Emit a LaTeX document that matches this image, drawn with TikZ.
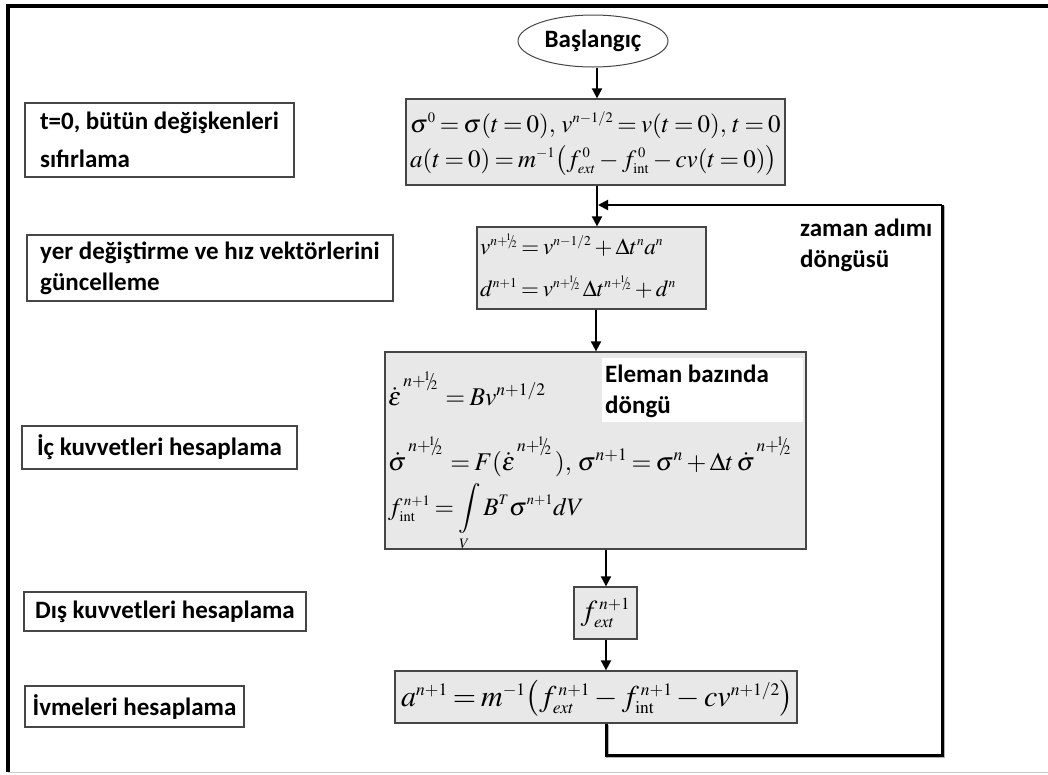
\documentclass[tikz,border=0pt]{standalone}
\usepackage{mathptmx}
\usepackage[no-math]{fontspec}
\setmainfont{Carlito}
\usetikzlibrary{arrows.meta,shapes.geometric}
\DeclareMathSizes{25}{25}{14.5}{10.5}
\DeclareMathSizes{25.5}{25.5}{17.5}{13}
\DeclareMathSizes{23}{23}{13.5}{10}
\DeclareMathSizes{29}{29}{17}{12}
\DeclareMathSizes{30}{30}{17.5}{12.5}
\newcommand\fsz[1]{\fontsize{#1}{#1}\selectfont}
\newcommand\bfs{\bfseries\fontsize{25}{31}\selectfont}
\newcommand\hlf{\mkern-2mu{}^{1}\mkern-5mu/\mkern-4mu{}_{2}}
\newcommand\rsup[1]{^{\raisebox{0.35em}{$\scriptstyle #1$}}}
\thickmuskip=3mu plus 1mu
\medmuskip=2.5mu plus 1mu
\definecolor{boxgray}{RGB}{232,232,232}
\definecolor{edgegray}{RGB}{70,70,70}
\tikzset{
  mbox/.style={draw=edgegray,line width=1.3pt,fill=boxgray,inner sep=0pt},
  lab/.style={draw=edgegray,line width=1.3pt,fill=white,inner sep=0pt,font=\bfs,align=left},
  eq/.style={anchor=base west,inner sep=0pt},
  arr/.style={line width=2pt,-{Triangle[width=10pt,length=10pt]}},
  loopline/.style={line width=3pt,line join=miter},
}
\begin{document}
\begin{tikzpicture}[x=1pt,y=-1pt]
\useasboundingbox (0,0) rectangle (1048,774);
% frame
\draw[line width=4pt] (8,6) -- (1048,6);
\draw[line width=3.5pt] (8,4) -- (8,772);
\draw[gray!40,line width=1pt] (8,772.5) -- (1048,772.5);
% start
\node[ellipse,draw=edgegray,line width=1pt,fill=white,minimum width=150pt,minimum height=52pt,inner sep=0pt,font=\bfs] (bas) at (593,41) {Başlangıç};
% main boxes
\node[mbox,minimum width=379pt,minimum height=86pt] (b1) at (595.5,142) {};
\node[eq,font=\fsz{25}] (b1a) at (410,132) {$\sigma^0=\sigma(t=0),\, v^{n-1/2}=v(t=0),\, t=0$};
\node[eq,font=\fsz{25}] (b1b) at (410,167) {$a(t=0)=m^{-1}\bigl(f^{\,0}_{ext}-f^{\,0}_{\mathrm{int}}-cv(t=0)\bigr)$};
\node[mbox,minimum width=229pt,minimum height=82pt] (b2) at (591.5,268) {};
\node[eq,font=\fsz{23}] (b2a) at (480,254) {$v^{n+\hlf}=v^{n-1/2}+\Delta t^n a^n$};
\node[eq,font=\fsz{23}] (b2b) at (480,296) {$d^{n+1}=v^{n+\hlf}\,\Delta t^{n+\hlf}+d^n$};
\node[mbox,minimum width=421pt,minimum height=197pt] (b3) at (595.5,450.5) {};
\node[eq,font=\fsz{25.5}] (b3a) at (388,405) {$\dot{\varepsilon}\rsup{\,n+\hlf}\,=Bv^{n+1/2}$};
\node[eq,font=\fsz{25.5}] (b3b) at (388,470) {$\dot{\sigma}\rsup{\,n+\hlf}\,=F(\dot{\varepsilon}\rsup{\,n+\hlf}\,),\,\sigma^{n+1}=\sigma^n+\Delta t\,\dot{\sigma}\rsup{\,n+\hlf}$};
\node[eq,font=\fsz{25}] (b3c) at (388,515) {$f^{\,n+1}_{\mathrm{int}}=\displaystyle\int\limits_V B^T\sigma^{n+1}dV$};
\node[fill=white,inner sep=0pt,minimum width=201pt,minimum height=64pt,anchor=north west] (elm) at (602,358) {};
\node[anchor=north west,font=\bfs,align=left,inner sep=0pt] (elmt) at (605,365) {Eleman bazında\\döngü};
\node[mbox,minimum width=63pt,minimum height=52pt,font=\fsz{29}] (b4) at (605.5,613) {$f^{\,n+1}_{ext}$};
\node[mbox,minimum width=402pt,minimum height=52pt] (b5) at (596,697) {};
\node[eq,font=\fsz{30}] (b5a) at (401,706) {$a^{n+1}=m^{-1}\bigl(f^{\,n+1}_{ext}-f^{\,n+1}_{\mathrm{int}}-cv^{n+1/2}\bigr)$};
% labels
\node[lab,minimum width=269pt,minimum height=74pt] (l1) at (159.5,140) {t=0, bütün değişkenleri\\[7pt]sıfırlama};
\node[lab,minimum width=366pt,minimum height=66pt] (l2) at (210,268) {yer değiştirme ve hız vektörlerini\\güncelleme};
\node[lab,minimum width=275pt,minimum height=43pt] (l3) at (159.5,447.5) {İç kuvvetleri hesaplama};
\node[lab,minimum width=282pt,minimum height=39pt] (l4) at (165,611.5) {Dış kuvvetleri hesaplama};
\node[lab,minimum width=219pt,minimum height=41pt] (l5) at (134.5,706.5) {İvmeleri hesaplama};
\node[anchor=north west,font=\bfs,align=left,inner sep=0pt] (zam) at (800,219) {zaman adımı\\döngüsü};
% connectors
\coordinate (xa) at (597,0);
\coordinate (xb) at (596,0);
\coordinate (xc) at (606,0);
\draw[arr] (xa |- bas.south) -- (xa |- b1.north);
\draw[arr] (xa |- b1.south) -- (xa |- b2.north);
\draw[arr] (xb |- b2.south) -- (xb |- b3.north);
\draw[arr] (xc |- b3.south) -- (xc |- b4.north);
\draw[arr] (xc |- b4.south) -- (xc |- b5.north);
\coordinate (lb) at (606,755);
\coordinate (lt) at (942,205);
\coordinate (lj) at (598,205);
\draw[loopline,gray!60] ([shift={(1,1)}]xc |- b5.south) -- ([shift={(1,1)}]lb) -| ([shift={(1,1)}]lt);
\draw[loopline] (xc |- b5.south) -- (lb) -| (lt);
\draw[arr] (lt) -- (lj);
\end{tikzpicture}
\end{document}
